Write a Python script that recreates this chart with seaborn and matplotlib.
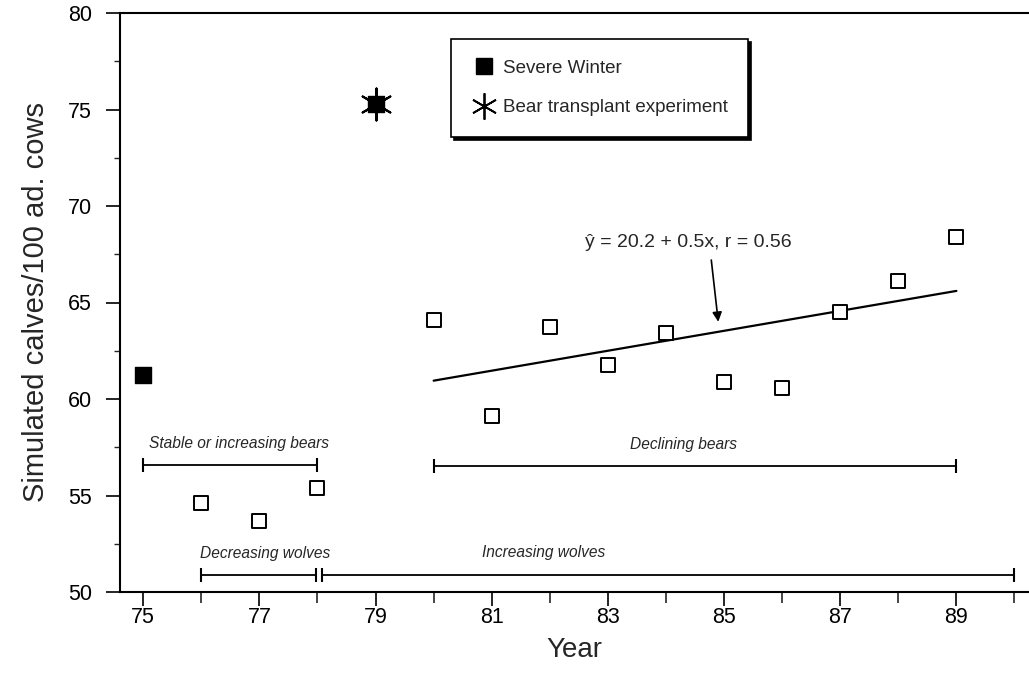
import matplotlib
matplotlib.use("Agg")
import matplotlib.pyplot as plt
import seaborn as sns
import pandas as pd
from matplotlib.lines import Line2D
from matplotlib.ticker import MultipleLocator, FixedLocator

# ---------------- data ----------------
years = [75, 76, 77, 78, 79, 80, 81, 82, 83, 84, 85, 86, 87, 88, 89]
calves = [61.25, 54.6, 53.7, 55.4, 75.3, 64.1, 59.1, 63.75, 61.75, 63.4,
          60.9, 60.55, 64.5, 66.1, 68.4]
severe_winter_years = [75, 79]
bear_transplant_years = [79]

fit_years = [80, 89]
fit_values = [60.95, 65.6]
fit_label = "ŷ = 20.2 + 0.5x, r = 0.56"

bracket_labels = ["Stable or increasing bears", "Declining bears",
                  "Decreasing wolves", "Increasing wolves"]
bracket_start = [75, 80, 76, 78.07]
bracket_end = [78, 89, 77.97, 90]
bracket_level = [56.6, 56.55, 50.9, 50.9]

legend_labels = ["Severe Winter", "Bear transplant experiment"]
x_tick_labels = ["75", "77", "79", "81", "83", "85", "87", "89"]
y_tick_values = [50, 55, 60, 65, 70, 75, 80]

df = pd.DataFrame({"year": years, "calves": calves})
df["winter"] = df["year"].isin(severe_winter_years)
df["transplant"] = df["year"].isin(bear_transplant_years)

# ---------------- style ----------------
sns.set_theme(style="ticks")
plt.rcParams["font.family"] = ["Liberation Sans", "DejaVu Sans"]

W, H = 1029, 688
fig = plt.figure(figsize=(W / 100, H / 100), dpi=100)
ax = fig.add_axes([120 / W, 1 - 592 / H, (W - 120) / W, (592 - 13) / H])

ax.set_xlim(74.6, 90.25)
ax.set_ylim(50, 80)

# regression line
sns.lineplot(x=fit_years, y=fit_values, color="black", linewidth=1.6, ax=ax)

# open squares
sns.scatterplot(data=df[~df["winter"]], x="year", y="calves", marker="s",
                s=10.5 ** 2, color="white", edgecolor="black", linewidth=1.4,
                ax=ax, zorder=3)
# severe winter
sns.scatterplot(data=df[df["winter"]], x="year", y="calves", marker="s",
                s=11.5 ** 2, color="black", edgecolor="black", linewidth=1,
                ax=ax, zorder=4)
# bear transplant
sns.scatterplot(data=df[df["transplant"]], x="year", y="calves", marker=(6, 2, 0),
                s=23 ** 2, color="black", edgecolor="black", linewidth=1.5,
                ax=ax, zorder=5)

# brackets
label_pos = [(75.1, 57.3, "left"), (84.3, 57.25, "center"),
             (77.1, 51.6, "center"), (81.9, 51.65, "center")]
for lab, x0, x1, yl, (tx, ty, ha) in zip(bracket_labels, bracket_start, bracket_end,
                                         bracket_level, label_pos):
    ax.plot([x0, x1], [yl, yl], color="black", linewidth=1.3,
            marker="|", markersize=10, markeredgewidth=1.5)
    ax.text(tx, ty, lab, ha=ha, va="bottom", style="italic", fontsize=11.2)

# regression annotation
ax.text(82.6, 68.1, fit_label, ha="left", va="center", fontsize=14)
ax.annotate("", xy=(84.9, 64.0), xytext=(84.78, 67.2),
            arrowprops=dict(arrowstyle="-|>", color="black", lw=1.2,
                            mutation_scale=14, shrinkA=0, shrinkB=0))

# axes styling
for side in ["left", "bottom", "top"]:
    ax.spines[side].set_visible(True)
    ax.spines[side].set_linewidth(1.5)
    ax.spines[side].set_color("black")
ax.spines["right"].set_visible(False)

ax.xaxis.set_major_locator(FixedLocator(list(range(75, 91, 2))))
ax.set_xticklabels(x_tick_labels)
ax.xaxis.set_minor_locator(FixedLocator(list(range(76, 91, 2))))
ax.set_yticks(y_tick_values)
ax.yaxis.set_minor_locator(MultipleLocator(2.5))
ax.tick_params(axis="both", which="major", direction="out", length=10, width=1.2,
               labelsize=15.5, colors="black")
ax.tick_params(axis="x", which="major", pad=0.5)
ax.tick_params(axis="y", which="major", pad=10)
ax.tick_params(axis="y", which="minor", direction="out", length=4, width=1)
ax.tick_params(axis="x", which="minor", direction="out", length=8, width=1.2)
ax.tick_params(axis="both", which="both", top=False, right=False)

ax.set_xlabel("Year", fontsize=20, labelpad=7)
ax.set_ylabel("Simulated calves/100 ad. cows", fontsize=21, labelpad=13)

# legend
handles = [Line2D([], [], marker="s", color="black", linestyle="none", markersize=11),
           Line2D([], [], marker=(6, 2, 0), color="black", linestyle="none",
                  markersize=19, markeredgewidth=1.3)]
leg = ax.legend(handles, legend_labels, loc="upper center",
                bbox_to_anchor=(0.528, 0.955), frameon=True, fancybox=False,
                edgecolor="black", framealpha=1, fontsize=13.5, borderpad=1.1,
                labelspacing=1.2, handletextpad=0.4, handlelength=1.25,
                borderaxespad=0, shadow={"color": "black", "alpha": 1})
leg.get_frame().set_linewidth(1.2)

fig.savefig("out.png", dpi=100)
